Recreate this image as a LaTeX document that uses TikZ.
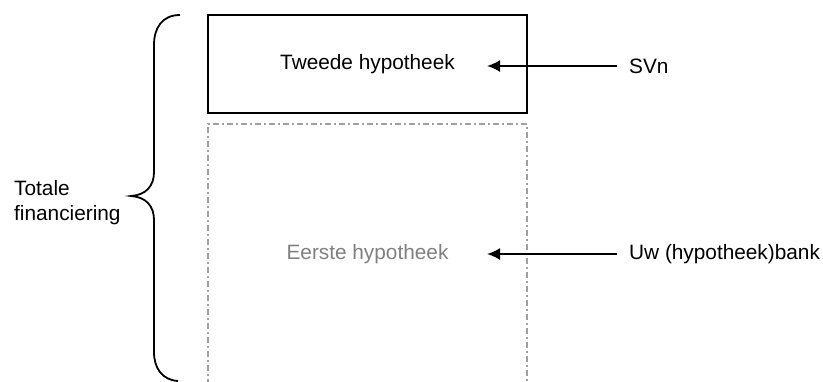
\documentclass[tikz,border=0pt]{standalone}
\usepackage{fontspec}
\setmainfont{Liberation Sans}
\usetikzlibrary{arrows.meta}
\definecolor{dgray}{HTML}{A0A0A0}
\definecolor{tgray}{HTML}{808080}
\tikzset{
  lbl/.style={font=\fontsize{20.8}{25}\selectfont, inner sep=0pt},
  solidbox/.style={draw=black, line width=1.6pt, inner sep=0pt},
  dashbox/.style={draw=dgray, line width=2pt, dash pattern=on 6pt off 3pt on 2pt off 3pt},
  brace/.style={draw=black, line width=1.8pt},
  arr/.style={draw=black, line width=2pt, -{Latex[length=13pt,width=12pt]}}
}
\begin{document}
\begin{tikzpicture}[x=1pt,y=-1pt]
\useasboundingbox (0,0) rectangle (823,381);
\clip (0,0) rectangle (823,381);
% top box
\node[solidbox, minimum width=319pt, minimum height=98pt, lbl, inner sep=0pt] (box2) at (367.5,64) {Tweede hypotheek};
% dash-dot box (open at the bottom)
\draw[dashbox] (208,385) -- (208,124) -- (527,124) -- (527,385);
\node[lbl, text=tgray] (eerste) at (367.5,254) {Eerste hypotheek};
% right labels
\node[lbl, anchor=west] (svn) at (629,66) {SVn};
\node[lbl, anchor=west] (bank) at (629,254) {Uw (hypotheek)bank};
\coordinate (a1) at (487,66);
\coordinate (a2) at (487,254);
\draw[arr] ([xshift=-12pt]svn.west) -- (a1);
\draw[arr] ([xshift=-12pt]bank.west) -- (a2);
% brace
\draw[brace] (180,15) .. controls (162,15) and (154,28) .. (154,45) -- (154,172)
  .. controls (154,186) and (146,195) .. (131,196)
  .. controls (146,197) and (154,206) .. (154,220) -- (154,352)
  .. controls (154,368) and (162,380) .. (178,381);
% left label
\node[lbl, anchor=west, align=left] (tot) at (14,203) {Totale\\financiering};
\end{tikzpicture}
\end{document}
